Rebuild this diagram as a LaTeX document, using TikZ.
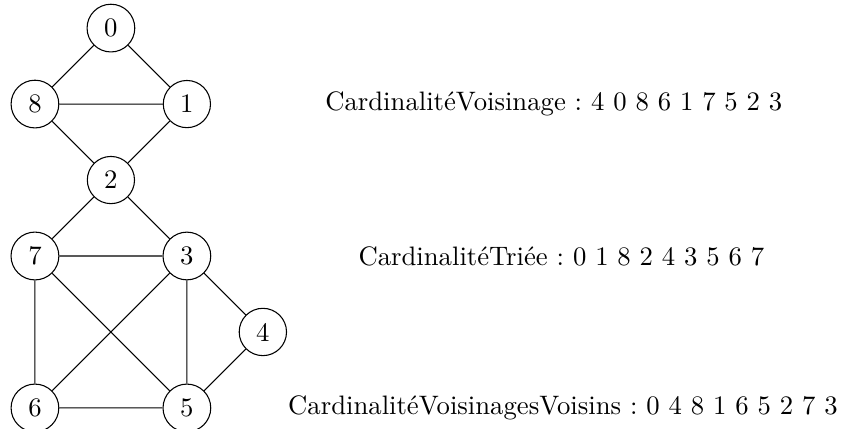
\documentclass[tikz,border=0pt]{standalone}
\begin{document}
\frenchspacing
\begin{tikzpicture}
\tikzset{vertex/.style={draw,circle},edge/.style={draw},label text/.style={font=\frenchspacing}}
\useasboundingbox (-0.46,-0.276) rectangle (10.61,5.37);
\node[vertex] (v0) at (1,5) {0};
\node[vertex] (v8) at (0,4) {8};
\node[vertex] (v1) at (2,4) {1};
\node[vertex] (v2) at (1,3) {2};
\node[vertex] (v7) at (0,2) {7};
\node[vertex] (v3) at (2,2) {3};
\node[vertex] (v4) at (3,1) {4};
\node[vertex] (v6) at (0,0) {6};
\node[vertex] (v5) at (2,0) {5};
\path[edge] (v0)--(v8) (v0)--(v1) (v8)--(v1) (v8)--(v2) (v1)--(v2)
 (v2)--(v7) (v2)--(v3) (v7)--(v3) (v7)--(v6) (v7)--(v5) (v3)--(v6)
 (v3)--(v5) (v3)--(v4) (v4)--(v5) (v6)--(v5);
\node[label text] (t1) at (6.83,4) {CardinalitéVoisinage : 4 0 8 6 1 7 5 2 3};
\node[label text] (t2) at (6.93,2) {CardinalitéTriée : 0 1 8 2 4 3 5 6 7};
\node[label text] (t3) at (6.95,0) {CardinalitéVoisinagesVoisins : 0 4 8 1 6 5 2 7 3};
\end{tikzpicture}
\end{document}
